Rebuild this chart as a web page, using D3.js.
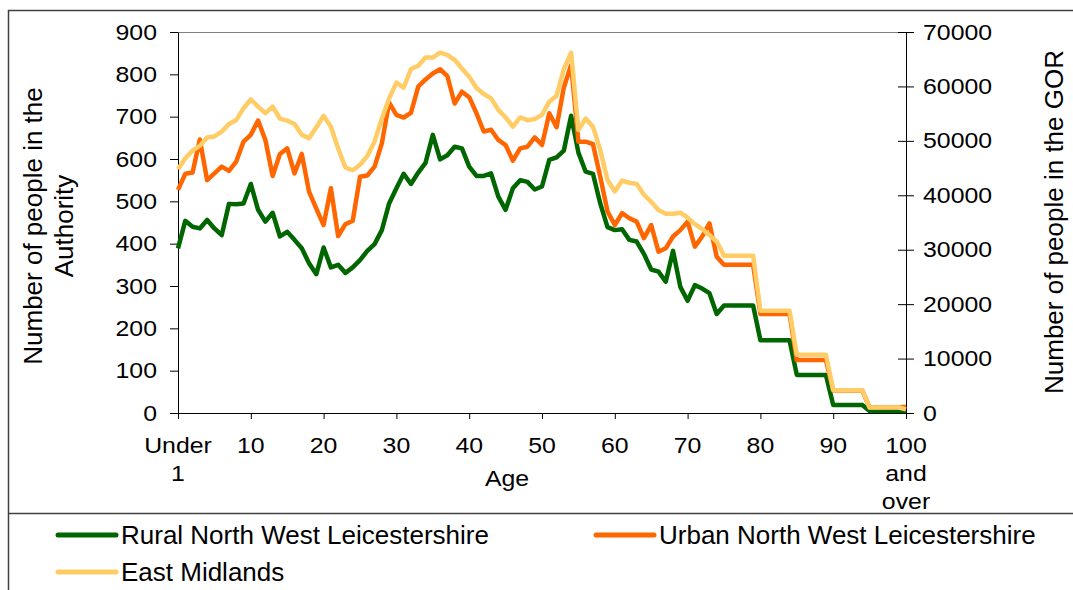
<!DOCTYPE html>
<html>
<head>
<meta charset="utf-8">
<script src="https://cdn.jsdelivr.net/npm/d3@7"></script>
<style>
  body { margin: 0; background: #fff; }
  svg { display: block; font-family: "Liberation Sans", Arial, sans-serif; }
</style>
</head>
<body>
<svg id="chart" width="1073" height="590"></svg>
<script>
// ages 0 .. 100 (last one is "100 and over")
var ages = d3.range(0, 101);

var xTickLabels = [["Under", "1"], ["10"], ["20"], ["30"], ["40"], ["50"], ["60"], ["70"], ["80"], ["90"], ["100", "and", "over"]];

// left axis (Authority)
var rural = [389,454,440,436,456,436,420,494,493,495,
    541,480,452,473,417,428,409,389,354,328,
    391,344,350,331,344,361,383,399,432,495,
    531,565,541,568,591,657,599,609,629,625,
    582,560,560,566,511,480,531,550,546,528,
    535,598,604,620,702,615,570,565,495,439,
    432,434,409,405,376,339,334,310,383,298,
    265,302,294,283,234,254,254,254,254,254,
    172,172,172,172,172,90,90,90,90,90,
    19,19,19,19,19,5,5,5,5,5,
    5];

var urban = [527,565,568,646,550,566,582,572,594,641,
    657,691,645,560,612,625,566,612,523,483,
    444,531,418,446,454,558,561,582,637,733,
    704,698,709,771,788,802,812,796,731,759,
    746,708,665,669,645,633,596,625,629,651,
    633,708,675,769,822,641,641,635,558,476,
    444,472,460,452,413,444,381,389,417,432,
    452,393,417,448,369,350,350,350,350,350,
    234,234,234,234,234,125,125,125,125,125,
    53,53,53,53,53,13,13,13,13,13,
    15];

// right axis (GOR)
var eastMidlands = [44800,46800,48200,49100,50600,50800,51700,53100,53800,56000,
    57600,56300,55100,56300,54100,53700,53100,51100,50500,52500,
    54600,52600,48600,45100,44600,45600,47200,49900,54100,57800,
    60700,59800,63200,63800,65300,65300,66200,65800,64900,63300,
    61800,59700,58600,57800,55700,54300,52600,54300,53800,54000,
    54800,57200,58300,63200,66200,52000,54100,52600,48300,42800,
    40700,42700,42300,42100,40100,38800,37300,36600,36600,36800,
    35900,34700,33800,32700,31500,28900,28900,28900,28900,28900,
    18800,18800,18800,18800,18800,10700,10700,10700,10700,10700,
    4200,4200,4200,4200,4200,1000,1000,1000,1000,1000,
    700];

var series = [
    { name: "Rural North West Leicestershire", values: rural, color: "#006600", axis: "left" },
    { name: "Urban North West Leicestershire", values: urban, color: "#ff6600", axis: "left" },
    { name: "East Midlands", values: eastMidlands, color: "#ffcc66", axis: "right" }
];

const width = 1073;
const height = 590;
const plot = { left: 178, right: 906, top: 32, bottom: 413 };
const fs = 22;
const sx = 1.13; // the text in the picture is a bit wide

const svg = d3.select("#chart");

const x = d3.scaleLinear().domain([0, 100]).range([plot.left, plot.right]);
const yL = d3.scaleLinear().domain([0, 900]).range([plot.bottom, plot.top]);
const yR = d3.scaleLinear().domain([0, 70000]).range([plot.bottom, plot.top]);

// stretch text horizontally but keep its anchor point
function widen(sel, k) {
    sel.each(function () {
        var t = d3.select(this);
        var tx = +t.attr("x") || 0;
        var ty = +t.attr("y") || 0;
        t.attr("x", 0).attr("y", 0)
            .attr("transform", `translate(${tx},${ty}) scale(${k},1)`);
    });
}

// outer frame and legend divider
svg.append("rect")
    .attr("x", 8.5).attr("y", 10.5)
    .attr("width", 1100).attr("height", 620)
    .attr("fill", "none").attr("stroke", "#404040").attr("stroke-width", 1.5);
svg.append("line")
    .attr("x1", 8).attr("x2", width).attr("y1", 513.5).attr("y2", 513.5)
    .attr("stroke", "#404040").attr("stroke-width", 1.5);

// plot area top border
svg.append("line")
    .attr("x1", plot.left).attr("x2", plot.right)
    .attr("y1", plot.top + 0.5).attr("y2", plot.top + 0.5)
    .attr("stroke", "#808080");

// left axis
const gL = svg.append("g")
    .attr("transform", `translate(${plot.left},0)`)
    .call(d3.axisLeft(yL).tickValues(d3.range(0, 901, 100)).tickSizeInner(8).tickSizeOuter(0).tickPadding(13));
gL.select(".domain").attr("stroke", "#000");
gL.selectAll("text").attr("font-size", fs).attr("fill", "#000").attr("font-family", null)
    .each(function () {
        var t = d3.select(this);
        t.attr("transform", `translate(${+t.attr("x")},0) scale(${sx},1)`).attr("x", 0);
    });

// right axis
const gR = svg.append("g")
    .attr("transform", `translate(${plot.right},0)`)
    .call(d3.axisRight(yR).tickValues(d3.range(0, 70001, 10000)).tickFormat(d3.format("d"))
        .tickSizeInner(8).tickSizeOuter(0).tickPadding(9));
gR.select(".domain").attr("stroke", "#000");
gR.selectAll(".tick line").attr("x1", -8);
gR.selectAll("text").attr("font-size", fs).attr("fill", "#000").attr("font-family", null)
    .each(function () {
        var t = d3.select(this);
        t.attr("transform", `translate(${+t.attr("x")},0) scale(${sx},1)`).attr("x", 0);
    });

// x axis
const gX = svg.append("g")
    .attr("transform", `translate(0,${plot.bottom})`)
    .call(d3.axisBottom(x).tickValues(d3.range(0, 101, 10)).tickSizeInner(6).tickSizeOuter(0).tickFormat(""));
gX.select(".domain").attr("stroke", "#000");

const xl = svg.append("g").attr("font-size", fs).attr("text-anchor", "middle");
xTickLabels.forEach(function (lines, i) {
    lines.forEach(function (s, j) {
        xl.append("text")
            .attr("x", x(i * 10))
            .attr("y", 453 + j * 28)
            .text(s);
    });
});
widen(xl.selectAll("text"), sx);

// axis titles
svg.append("text")
    .attr("x", 507).attr("y", 486)
    .attr("font-size", fs).attr("text-anchor", "middle")
    .text("Age")
    .call(widen, sx);

const lt = svg.append("text")
    .attr("transform", "translate(42,226) rotate(-90)")
    .attr("font-size", 26).attr("text-anchor", "middle");
lt.append("tspan").attr("x", 0).attr("y", 0).text("Number of people in the");
lt.append("tspan").attr("x", 0).attr("y", 31).text("Authority");

svg.append("text")
    .attr("transform", "translate(1063,222) rotate(-90)")
    .attr("font-size", 26).attr("text-anchor", "middle")
    .text("Number of people in the GOR");

// lines
series.forEach(function (s) {
    var y = s.axis == "left" ? yL : yR;
    var line = d3.line()
        .x((d, i) => x(ages[i]))
        .y(d => y(d));
    svg.append("path")
        .datum(s.values)
        .attr("d", line)
        .attr("fill", "none")
        .attr("stroke", s.color)
        .attr("stroke-width", 4.5)
        .attr("stroke-linejoin", "round");
});

// legend
const legendPos = [[58, 535], [596, 535], [58, 572]];
series.forEach(function (s, i) {
    var p = legendPos[i];
    var g = svg.append("g").attr("transform", `translate(${p[0]},${p[1]})`);
    g.append("line")
        .attr("x1", 0).attr("x2", 58)
        .attr("stroke", s.color).attr("stroke-width", 5).attr("stroke-linecap", "round");
    g.append("text")
        .attr("x", 63).attr("y", 9)
        .attr("font-size", 25)
        .text(s.name)
        .call(widen, 1.04);
});
</script>
</body>
</html>
